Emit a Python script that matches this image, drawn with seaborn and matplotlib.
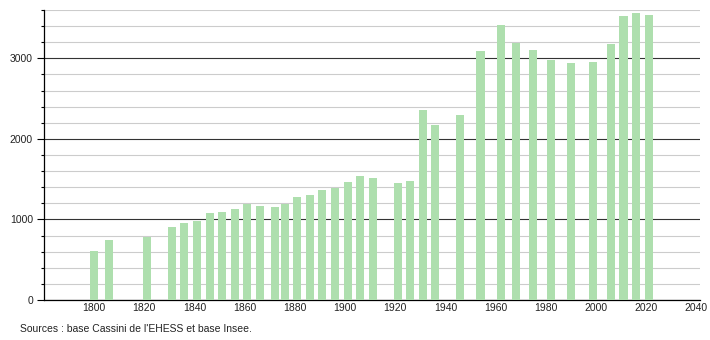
import matplotlib
matplotlib.use("Agg")
import matplotlib.pyplot as plt
from matplotlib.ticker import MultipleLocator, FixedLocator
import seaborn as sns
import pandas as pd

years = [1800, 1806, 1821, 1831, 1836, 1841, 1846, 1851, 1856, 1861, 1866,
         1872, 1876, 1881, 1886, 1891, 1896, 1901, 1906, 1911, 1921, 1926,
         1931, 1936, 1946, 1954, 1962, 1968, 1975, 1982, 1990, 1999, 2006,
         2011, 2016, 2021]
population = [614, 739, 776, 905, 950, 975, 1075, 1087, 1133, 1195, 1170,
              1158, 1190, 1278, 1307, 1369, 1390, 1469, 1544, 1515, 1456, 1481,
              2353, 2178, 2299, 3091, 3411, 3195, 3100, 2975, 2938, 2950, 3174,
              3527, 3560, 3539]
x_ticks = [1800, 1820, 1840, 1860, 1880, 1900, 1920, 1940, 1960, 1980, 2000, 2020, 2040]
y_ticks = [0, 1000, 2000, 3000]
source_text = "Sources : base Cassini de l'EHESS et base Insee."

df = pd.DataFrame({"year": years, "pop": population})

sns.set_theme(style="white")
plt.rcParams['font.family'] = ['Liberation Sans Narrow', 'Liberation Sans', 'DejaVu Sans']

fig = plt.figure(figsize=(7.1, 3.4), dpi=100)
ax = fig.add_axes([44/710, 40/340, 656/710, 290/340])

sns.barplot(data=df, x="year", y="pop", native_scale=True, width=0.8,
            color="#aedfae", saturation=1, edgecolor="none", ax=ax, zorder=3)

ax.set_xlim(1780, 2041.5)
ax.set_ylim(0, 3600)
ax.xaxis.set_major_locator(FixedLocator(x_ticks))
ax.yaxis.set_major_locator(FixedLocator(y_ticks))
ax.yaxis.set_minor_locator(MultipleLocator(200))
ax.set_axisbelow(True)
ax.grid(which="minor", axis="y", color="#cccccc", linewidth=0.8, zorder=0)
ax.grid(which="major", axis="y", color="#333333", linewidth=0.8, zorder=1)
ax.grid(which="major", axis="x", visible=False)

for s in ["top", "right"]:
    ax.spines[s].set_visible(False)
for s in ["left", "bottom"]:
    ax.spines[s].set_color("black")
    ax.spines[s].set_linewidth(0.9)

ax.tick_params(axis="y", which="major", left=True, length=5, width=0.8,
               color="black", labelsize=7.5, labelcolor="#222222", pad=3)
ax.tick_params(axis="y", which="minor", left=True, length=2.5, width=0.8, color="black")
ax.tick_params(axis="x", which="both", bottom=False, length=0, labelsize=7.5,
               labelcolor="#222222", pad=2)
ax.set_xlabel("")
ax.set_ylabel("")

fig.text(20/710, 1 - 329/340, source_text, fontsize=7.5, color="#222222",
         va="center", ha="left")

fig.savefig("out.png", dpi=100)
